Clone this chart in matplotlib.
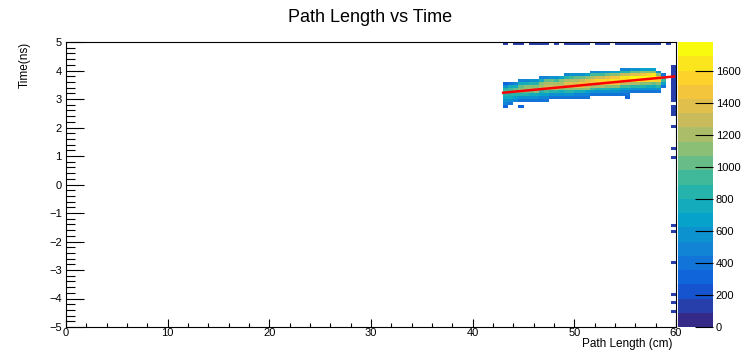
import numpy as np
import matplotlib
matplotlib.use('Agg')
import matplotlib.pyplot as plt
from matplotlib.colors import LinearSegmentedColormap, ListedColormap, BoundaryNorm

plt.rcParams['font.family'] = ['Liberation Sans', 'DejaVu Sans']

# histogram binning (cm / ns) and colour scale
x_edges = np.linspace(0, 60, 121)
y_edges = np.linspace(-5, 5, 101)
z_max = 1780
n_levels = 20

# main band: one entry per x bin -> lowest filled y bin and colour level of each cell (bottom -> top)
band_x = [43.0, 43.5, 44.0, 44.5, 45.0, 45.5, 46.0, 46.5, 47.0, 47.5, 48.0, 48.5, 49.0, 49.5, 50.0, 50.5,
          51.0, 51.5, 52.0, 52.5, 53.0, 53.5, 54.0, 54.5, 55.0, 55.5, 56.0, 56.5, 57.0, 57.5, 58.0, 58.5]
band_bottom = [2.7, 2.8, 2.9, 2.9, 2.9, 2.9, 2.9, 2.9, 2.9, 3.0, 3.0, 3.0, 3.0, 3.0, 3.0, 3.0,
               3.0, 3.1, 3.1, 3.1, 3.1, 3.1, 3.1, 3.1, 3.0, 3.2, 3.2, 3.2, 3.2, 3.2, 3.2, 3.4]
band_levels = ["35689a963", "4689aa84", "579bb85", "469bcb85", "469bcc85", "468bdc96", "468cdc96",
               "4579cdc85", "457adedb5", "469dedb6", "469deda6", "468cedc7", "469cefd95", "469cefda6",
               "458cffdb6", "458cfgeb6", "457cegfc7", "46adggda5", "469dghea5", "469dghea6", "469cghfb6",
               "468cgigc7", "468cgigc7", "457aehie95", "3457aeiie95", "469dijfb6", "469dijfb6",
               "469chjgc7", "468chjhc7", "468bhjic7", "469chhc6", "47a84"]

# sparse low-count cells
stray_x = [44.5]
stray_y = [2.7]
top_row_x = [43.0, 44.0, 44.5, 45.5, 46.0, 46.5, 47.0, 48.0, 49.0, 49.5, 50.0, 50.5, 51.0, 52.0, 52.5,
             53.0, 54.0, 54.5, 55.0, 55.5, 56.0, 56.5, 57.0, 57.5, 58.0, 59.0]
top_row_y = 4.9
edge_col_x = 59.5
edge_col_y = [4.1, 4.0, 3.9, 3.8, 3.7, 3.6, 3.5, 3.4, 3.3, 3.2, 3.1, 3.0, 2.9, 2.7, 2.6, 2.5, 2.4,
              2.0, 1.2, 0.9, -1.5, -1.7, -2.8, -3.9, -4.2, -4.5]

# fitted line
fit_x = [43.0, 59.8]
fit_y = [3.22, 3.79]

level_chars = "0123456789abcdefghij"
step = z_max / n_levels


def cell(x, y):
    return int(round((y + 5) / 0.1)), int(round(x / 0.5))


H = np.zeros((len(y_edges) - 1, len(x_edges) - 1))
for x, b, levs in zip(band_x, band_bottom, band_levels):
    for k, c in enumerate(levs):
        i, j = cell(x, b + 0.1 * k)
        H[i, j] = (level_chars.index(c) + 0.5) * step
for x, y in zip(stray_x, stray_y):
    H[cell(x, y)] = 3.5 * step
for x in top_row_x:
    H[cell(x, top_row_y)] = 1.5 * step
for y in edge_col_y:
    H[cell(edge_col_x, y)] = 1.5 * step

# ROOT kBird palette, 20 contour levels
stops = [0.0, 0.125, 0.25, 0.375, 0.5, 0.625, 0.75, 0.875, 1.0]
red = [0.2082, 0.0592, 0.0780, 0.0232, 0.1802, 0.5301, 0.8186, 0.9956, 0.9764]
green = [0.1664, 0.3599, 0.5041, 0.6419, 0.7178, 0.7492, 0.7328, 0.7862, 0.9832]
blue = [0.5293, 0.8684, 0.8385, 0.7914, 0.6425, 0.4662, 0.3499, 0.1968, 0.0539]
bird = LinearSegmentedColormap.from_list('bird', list(zip(stops, zip(red, green, blue))))
cmap = ListedColormap([bird(i / (n_levels - 1)) for i in range(n_levels)])
norm = BoundaryNorm(np.linspace(0, z_max, n_levels + 1), n_levels)

fig = plt.figure(figsize=(7.45, 3.5), dpi=100)
ax = fig.add_axes([66 / 745, 23 / 350, 610 / 745, 285 / 350])
cax = fig.add_axes([678 / 745, 23 / 350, 35 / 745, 285 / 350])

mesh = ax.pcolormesh(x_edges, y_edges, np.ma.masked_equal(H, 0), cmap=cmap, norm=norm)
ax.plot(fit_x, fit_y, color='red', lw=1.8)

ax.set_xlim(0, 60)
ax.set_ylim(-5, 5)
ax.set_xticks(np.arange(0, 61, 10))
ax.set_xticks(np.arange(0, 61, 2), minor=True)
ax.set_yticks(np.arange(-5, 6, 1))
ax.set_yticks(np.arange(-5, 5.01, 0.2), minor=True)
ax.tick_params(axis='x', which='major', direction='in', length=6, width=0.8, labelsize=8, pad=1)
ax.tick_params(axis='x', which='minor', direction='in', length=3, width=0.8)
ax.tick_params(axis='y', which='major', direction='in', length=13, width=0.8, labelsize=8, pad=3)
ax.tick_params(axis='y', which='minor', direction='in', length=6.5, width=0.8)
for s in ax.spines.values():
    s.set_linewidth(0.8)

cbar = fig.colorbar(mesh, cax=cax, ticks=np.arange(0, 1601, 200))
cbar.outline.set_visible(False)
cax.tick_params(direction='in', length=13, width=0.8, labelsize=8, pad=2)
cax.minorticks_off()

fig.text(0.497, 1 - 22 / 350, 'Path Length vs Time', ha='center', va='baseline', fontsize=13)
fig.text(25 / 745, 1 - 42 / 350, 'Time(ns)', rotation=90, ha='center', va='top', fontsize=8.5)
fig.text(672 / 745, 1 - 338 / 350, 'Path Length (cm)', ha='right', va='top', fontsize=8.5)

fig.savefig('out.png', dpi=100)
